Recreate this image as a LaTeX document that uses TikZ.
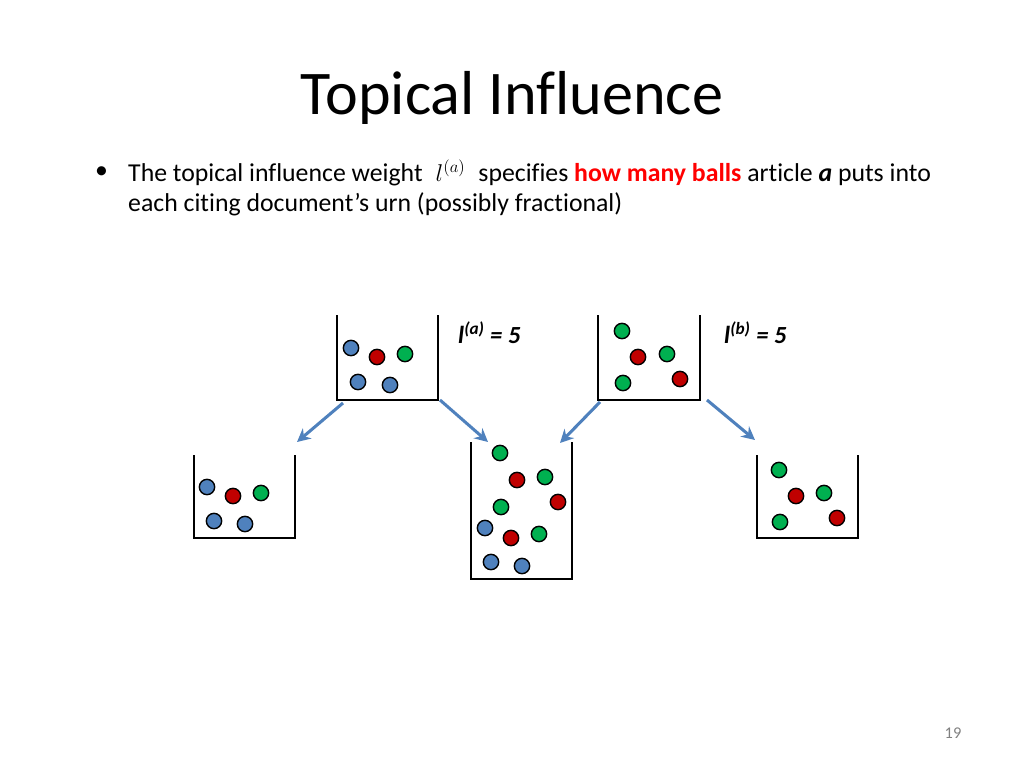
\documentclass[tikz,border=0pt]{standalone}
\usepackage{fontspec}
\usetikzlibrary{arrows.meta}
\setmainfont{Carlito}[Ligatures=NoCommon]
\definecolor{ballblue}{RGB}{79,129,189}
\definecolor{ballred}{RGB}{192,0,0}
\definecolor{ballgreen}{RGB}{0,176,80}
\definecolor{arrowblue}{RGB}{79,129,189}
\begin{document}
\begin{tikzpicture}[x=0.3mm, y=-0.3mm,
    ball/.style = {circle, draw=black, line width=1.2pt, minimum size=4.6mm, inner sep=0pt},
    urnline/.style = {draw, line width=1.4pt},
    spread/.style = {-{Stealth[length=4mm,width=4mm]}, draw=arrowblue, line width=2.6pt},
    body/.style = {anchor=west, inner sep=0pt, font=\fontsize{22}{26}\selectfont}]
  \useasboundingbox (0,0) rectangle (1024,768);

  % title and text
  \node (title) at (512,98) {\fontsize{53}{60}\selectfont Topical Influence};
  \node[body] (bullet) at (95,173) {\textbullet};
  \node[body] (line1) at (128,173) {The topical influence weight \;$l^{(a)}$\; specifies
    \textcolor{red}{\textbf{how many balls}} article \textbf{\textit{a}} puts into};
  \node[body] (line2) at (128,204) {each citing document’s urn (possibly fractional)};
  \node[body, font=\fontsize{21}{25}\selectfont] (wa) at (458,333) {\textbf{\textit{l}}\textsuperscript{\textbf{\textit{(a)}}} \textbf{\textit{= 5}}};
  \node[body, font=\fontsize{21}{25}\selectfont] (wb) at (724,333) {\textbf{\textit{l}}\textsuperscript{\textbf{\textit{(b)}}} \textbf{\textit{= 5}}};
  \node (page) at (953,733) {\fontsize{14}{16}\selectfont\color{gray}19};

  % urns
  \draw[urnline] (337,315) -- (337,400) -- (438,400) -- (438,315);
  \draw[urnline] (598,315) -- (598,400) -- (700,400) -- (700,315);
  \draw[urnline] (194,455) -- (194,538) -- (295,538) -- (295,455);
  \draw[urnline] (471,442) -- (471,579) -- (572,579) -- (572,442);
  \draw[urnline] (757,455) -- (757,538) -- (858,538) -- (858,455);

  % balls
  \foreach \x/\y/\c [count=\i] in {351/348/ballblue, 377/357/ballred, 405/354/ballgreen,
      358/382/ballblue, 390/385/ballblue,
      622/331/ballgreen, 638/357/ballred, 667/354/ballgreen, 623/383/ballgreen, 680/379/ballred,
      207/487/ballblue, 233/496/ballred, 261/493/ballgreen, 214/521/ballblue, 245/524/ballblue,
      500/453/ballgreen, 517/480/ballred, 545/477/ballgreen, 558/502/ballred, 501/507/ballgreen,
      485/528/ballblue, 511/538/ballred, 539/534/ballgreen, 491/562/ballblue, 522/566/ballblue,
      779/470/ballgreen, 796/496/ballred, 824/493/ballgreen, 780/522/ballgreen, 837/518/ballred}
    \node[ball, fill=\c] (ball\i) at (\x,\y) {};

  % arrows
  \coordinate (a1s) at (343,403); \coordinate (a1e) at (297,442);
  \coordinate (a2s) at (440,400); \coordinate (a2e) at (488,442);
  \coordinate (b1s) at (600,402); \coordinate (b1e) at (560,443);
  \coordinate (b2s) at (707,400); \coordinate (b2e) at (755,440);
  \draw[spread] (a1s) -- (a1e);
  \draw[spread] (a2s) -- (a2e);
  \draw[spread] (b1s) -- (b1e);
  \draw[spread] (b2s) -- (b2e);
\end{tikzpicture}
\end{document}
